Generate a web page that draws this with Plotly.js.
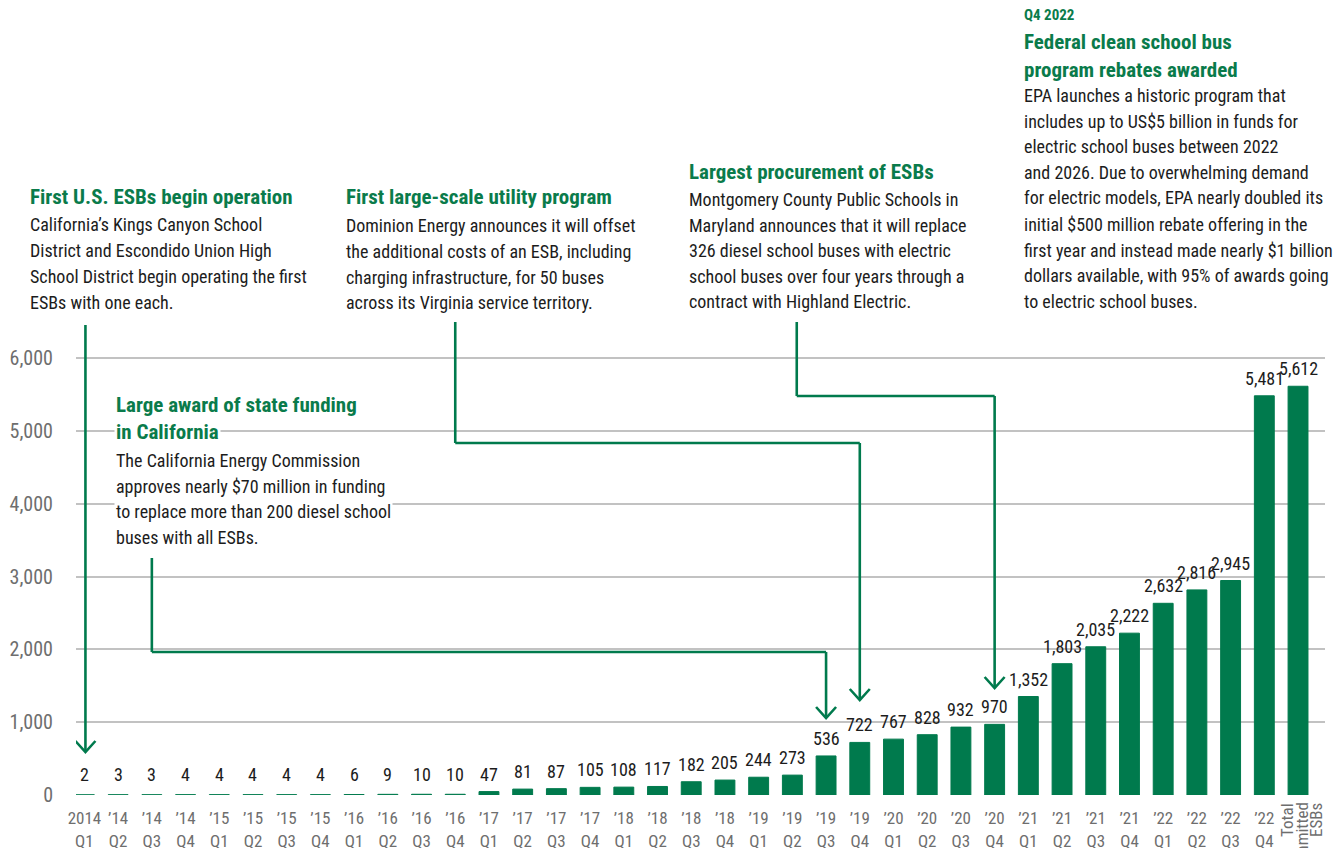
<!DOCTYPE html>
<html>
<head>
<meta charset="utf-8">
<script src="https://cdn.plot.ly/plotly-3.0.1.min.js"></script>
<style>
  html, body { margin: 0; padding: 0; background: #ffffff; }
  #chart { width: 1343px; height: 848px; }
</style>
</head>
<body>
<div id="chart"></div>
<script>
// ---------------- data ----------------
const categories = [
  "2014<br>Q1", "’14<br>Q2", "’14<br>Q3", "’14<br>Q4",
  "’15<br>Q1", "’15<br>Q2", "’15<br>Q3", "’15<br>Q4",
  "’16<br>Q1", "’16<br>Q2", "’16<br>Q3", "’16<br>Q4",
  "’17<br>Q1", "’17<br>Q2", "’17<br>Q3", "’17<br>Q4",
  "’18<br>Q1", "’18<br>Q2", "’18<br>Q3", "’18<br>Q4",
  "’19<br>Q1", "’19<br>Q2", "’19<br>Q3", "’19<br>Q4",
  "’20<br>Q1", "’20<br>Q2", "’20<br>Q3", "’20<br>Q4",
  "’21<br>Q1", "’21<br>Q2", "’21<br>Q3", "’21<br>Q4",
  "’22<br>Q1", "’22<br>Q2", "’22<br>Q3", "’22<br>Q4",
  "Total committed ESBs"
];
const esbCounts = [
  2, 3, 3, 4,
  4, 4, 4, 4,
  6, 9, 10, 10,
  47, 81, 87, 105,
  108, 117, 182, 205,
  244, 273, 536, 722,
  767, 828, 932, 970,
  1352, 1803, 2035, 2222,
  2632, 2816, 2945, 5481,
  5612
];
const totalLabelLines = ["Total", "committed", "ESBs"];
const yTickValues = [0, 1000, 2000, 3000, 4000, 5000, 6000];
const yTickLabels = ["0", "1,000", "2,000", "3,000", "4,000", "5,000", "6,000"];

const milestone1Title = ["First U.S. ESBs begin operation"];
const milestone1Body = [
  "California’s Kings Canyon School",
  "District and Escondido Union High",
  "School District begin operating the first",
  "ESBs with one each."
];
const milestone2Title = ["Large award of state funding", "in California"];
const milestone2Body = [
  "The California Energy Commission",
  "approves nearly $70 million in funding",
  "to replace more than 200 diesel school",
  "buses with all ESBs."
];
const milestone3Title = ["First large-scale utility program"];
const milestone3Body = [
  "Dominion Energy announces it will offset",
  "the additional costs of an ESB, including",
  "charging infrastructure, for 50 buses",
  "across its Virginia service territory."
];
const milestone4Title = ["Largest procurement of ESBs"];
const milestone4Body = [
  "Montgomery County Public Schools in",
  "Maryland announces that it will replace",
  "326 diesel school buses with electric",
  "school buses over four years through a",
  "contract with Highland Electric."
];
const milestone5Kicker = ["Q4 2022"];
const milestone5Title = ["Federal clean school bus", "program rebates awarded"];
const milestone5Body = [
  "EPA launches a historic program that",
  "includes up to US$5 billion in funds for",
  "electric school buses between 2022",
  "and 2026. Due to overwhelming demand",
  "for electric models, EPA nearly doubled its",
  "initial $500 million rebate offering in the",
  "first year and instead made nearly $1 billion",
  "dollars available, with 95% of awards going",
  "to electric school buses."
];

// ---------------- layout helpers ----------------
const W = 1343, H = 848;
const ML = 76, MR = 18, MT = 0, MB = 53;
const PW = W - ML - MR, PH = H - MT - MB;
const px2x = p => (p - ML) / PW;          // pixel -> paper x
const py2y = p => (MT + PH - p) / PH;     // pixel -> paper y

const FONT = '"Liberation Sans Narrow", "Roboto Condensed", "DejaVu Sans Condensed", Roboto, sans-serif';
const GREEN = '#007a4d';
const TITLE_GREEN = '#0a7b4b';
const INK = '#1c1c1c';
const GREY_TXT = '#6e6e6e';

const annotations = [];
function addLines(lines, xPix, yPixList, font) {
  lines.forEach((t, i) => {
    annotations.push({
      text: t, xref: 'paper', yref: 'paper',
      x: px2x(xPix), y: py2y(yPixList[i]),
      xanchor: 'left', yanchor: 'middle', showarrow: false,
      bgcolor: '#ffffff', borderpad: 1, font: font, align: 'left'
    });
  });
}
const titleFont = {family: FONT, size: 21, color: TITLE_GREEN, weight: 700};
const bodyFont = {family: FONT, size: 18, color: INK};

addLines(milestone1Title, 28, [197], titleFont);
addLines(milestone1Body, 28, [224, 250, 276, 302], bodyFont);
addLines(milestone3Title, 344, [197], titleFont);
addLines(milestone3Body, 344, [225, 251, 277, 302], bodyFont);
addLines(milestone4Title, 687, [172], titleFont);
addLines(milestone4Body, 687, [199, 225, 250, 276, 301], bodyFont);
addLines(milestone5Kicker, 1022, [15.5], {family: FONT, size: 15, color: TITLE_GREEN, weight: 700});
addLines(milestone5Title, 1022, [42.5, 70], titleFont);
addLines(milestone5Body, 1022, [96, 122, 147, 173, 198, 224, 250, 275, 301], bodyFont);
addLines(milestone2Title, 114, [405, 432], titleFont);
addLines(milestone2Body, 114, [460, 486, 511, 537], bodyFont);

// value labels above bars
esbCounts.forEach((v, i) => {
  annotations.push({
    text: v.toLocaleString('en-US'), xref: 'x', yref: 'y',
    x: i, y: Math.max(v, 40), yanchor: 'bottom', xanchor: 'center',
    yshift: 5, showarrow: false,
    font: {family: FONT, size: 18, color: INK}
  });
});

// rotated label for the total column
const lastIdx = categories.length - 1;
[-11, 3.5, 18].forEach((dx, i) => {
  annotations.push({
    text: totalLabelLines[i], xref: 'x', yref: 'paper',
    x: lastIdx, xshift: dx, y: py2y(801), yanchor: 'top', xanchor: 'center',
    textangle: -90, showarrow: false,
    font: {family: FONT, size: 17, color: GREY_TXT}
  });
});

// connector arrows (x: bar index, y: pixel rows converted to paper)
const shapes = [];
const lineStyle = {color: GREEN, width: 2.6};
function seg(x0, y0p, x1, y1p) {
  shapes.push({type: 'line', xref: 'x', yref: 'paper',
    x0: x0, x1: x1, y0: py2y(y0p), y1: py2y(y1p), line: lineStyle});
}
function head(x, yp) {
  shapes.push({type: 'path', xref: 'x', yref: 'paper',
    xsizemode: 'pixel', ysizemode: 'pixel', xanchor: x, yanchor: py2y(yp),
    path: 'M -10 11 L 0 0 L 10 11', line: lineStyle});
}
// 1: first ESBs -> 2014 Q1
seg(0.03, 325, 0.03, 752); head(0.03, 752);
// 2: state funding -> '19 Q3
seg(2, 558, 2, 652); seg(2, 652, 22, 652); seg(22, 652, 22, 718); head(22, 718);
// 3: utility program -> '19 Q4
seg(11, 322, 11, 443); seg(11, 443, 23, 443); seg(23, 443, 23, 700); head(23, 700);
// 4: procurement -> '20 Q4
seg(21.13, 322, 21.13, 396); seg(21.13, 396, 27, 396); seg(27, 396, 27, 688); head(27, 688);

const tickText = categories.slice();
tickText[lastIdx] = '';

const trace = {
  type: 'bar', x: categories, y: esbCounts,
  marker: {color: GREEN, line: {color: GREEN, width: 1}},
  hoverinfo: 'skip', showlegend: false
};

const yTop = 6000 * PH / (795 - 358);

const layout = {
  width: W, height: H,
  margin: {l: ML, r: MR, t: MT, b: MB, pad: 0},
  paper_bgcolor: '#ffffff', plot_bgcolor: '#ffffff',
  bargap: 0.41,
  showlegend: false,
  font: {family: FONT, color: INK},
  xaxis: {
    type: 'category', range: [-0.25, 36.8],
    tickvals: categories, ticktext: tickText,
    tickfont: {family: FONT, size: 17, color: GREY_TXT},
    ticks: 'outside', ticklen: 8, tickcolor: 'rgba(0,0,0,0)',
    showgrid: false, zeroline: false, showline: false, fixedrange: true
  },
  yaxis: {
    range: [0, yTop], tickvals: yTickValues, ticktext: yTickLabels,
    tickfont: {family: FONT, size: 20, color: GREY_TXT},
    ticks: 'outside', ticklen: 18, tickcolor: 'rgba(0,0,0,0)',
    showgrid: true, gridcolor: '#c2c2c2', gridwidth: 2,
    zeroline: false, showline: false, fixedrange: true
  },
  annotations: annotations,
  shapes: shapes
};

Plotly.newPlot('chart', [trace], layout, {displayModeBar: false, staticPlot: true});
</script>
</body>
</html>
